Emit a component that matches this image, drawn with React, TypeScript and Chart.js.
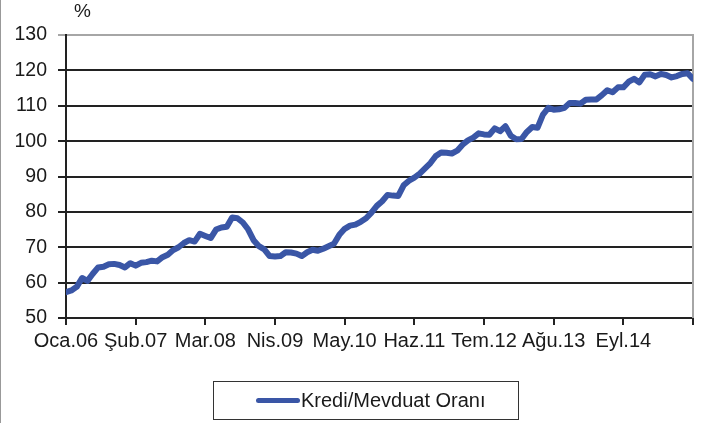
import React, { useEffect, useRef } from "react";
import { Chart, registerables } from "chart.js";

Chart.register(...registerables);

const tickLabels = ["Oca.06", "Şub.07", "Mar.08", "Nis.09", "May.10", "Haz.11", "Tem.12", "Ağu.13", "Eyl.14"];
const monthsPerTick = 13;
const seriesName = "Kredi/Mevduat Oranı";
const unitLabel = "%";
const yMin = 50;
const yMax = 130;
const yStep = 10;

const ratioValues = [
  57.3, 57.8, 58.8, 61.3, 60.5, 62.5, 64.3, 64.5, 65.2, 65.3,
  65.0, 64.3, 65.5, 64.8, 65.6, 65.8, 66.2, 66.0, 67.2, 67.9,
  69.2, 70.0, 71.2, 72.0, 71.6, 73.8, 73.2, 72.6, 75.0, 75.6,
  75.8, 78.4, 78.2, 77.0, 75.0, 72.0, 70.3, 69.4, 67.5, 67.4,
  67.5, 68.6, 68.5, 68.2, 67.5, 68.6, 69.3, 69.0, 69.6, 70.3,
  71.0, 73.5, 75.2, 76.1, 76.4, 77.2, 78.2, 79.8, 81.7, 83.0,
  84.8, 84.6, 84.5, 87.5, 88.8, 89.7, 90.8, 92.3, 93.8, 95.8,
  96.8, 96.7, 96.5, 97.3, 99.0, 100.2, 101.0, 102.2, 101.9, 101.8,
  103.6, 102.8, 104.2, 101.5, 100.5, 100.6, 102.6, 104.0, 103.8, 107.5,
  109.4, 108.9, 109.0, 109.4, 110.8, 110.8, 110.6, 111.7, 111.8, 111.8,
  113.0, 114.4, 113.8, 115.2, 115.2, 116.8, 117.6, 116.6, 118.8, 118.9,
  118.3, 119.0, 118.7, 118.0, 118.4, 119.0, 119.2, 117.6,
];

const FONT = "'Liberation Sans', Arial, sans-serif";
const LINE_COLOR = "#3a56a6";

const framePlugin = {
  id: "framePlugin",
  beforeDatasetsDraw(chart: any) {
    const { ctx, chartArea } = chart;
    ctx.save();
    ctx.strokeStyle = "#a6a6a6";
    ctx.lineWidth = 2;
    ctx.beginPath();
    ctx.moveTo(chartArea.right, chartArea.top - 1);
    ctx.lineTo(chartArea.right, chartArea.bottom);
    ctx.stroke();
    ctx.restore();
  },
  afterDraw(chart: any) {
    const { ctx, chartArea } = chart;
    ctx.save();
    ctx.fillStyle = "#1a1a1a";
    ctx.font = `19px ${FONT}`;
    ctx.textAlign = "left";
    ctx.textBaseline = "alphabetic";
    ctx.fillText(unitLabel, chartArea.left + 8, 17);
    ctx.strokeStyle = "#999999";
    ctx.lineWidth = 1;
    ctx.beginPath();
    ctx.moveTo(0.5, 0);
    ctx.lineTo(0.5, chart.height);
    ctx.stroke();
    ctx.restore();
  },
};

export default function App() {
  const ref = useRef<HTMLCanvasElement>(null);

  useEffect(() => {
    document.body.style.margin = "0";
    const chart = new Chart(ref.current as HTMLCanvasElement, {
      type: "line",
      data: {
        datasets: [
          {
            label: seriesName,
            data: ratioValues.map((v, i) => ({ x: i, y: v })),
            borderColor: LINE_COLOR,
            backgroundColor: LINE_COLOR,
            borderWidth: 6,
            pointRadius: 0,
            tension: 0,
            borderJoinStyle: "round",
            borderCapStyle: "round",
          } as any,
        ],
      },
      options: {
        responsive: false,
        animation: false,
        layout: { padding: { top: 35, right: 11, bottom: 68, left: 0 } },
        plugins: { legend: { display: false }, tooltip: { enabled: false } },
        scales: {
          x: {
            type: "linear",
            min: 0,
            max: ratioValues.length - 1,
            afterBuildTicks: (scale: any) => {
              const t: any[] = [];
              for (let v = 0; v <= ratioValues.length - 1; v += monthsPerTick) t.push({ value: v });
              scale.ticks = t;
            },
            afterFit: (scale: any) => {
              scale.height = 37;
            },
            grid: {
              display: true,
              drawOnChartArea: false,
              drawTicks: true,
              tickLength: 7,
              color: "#222222",
              lineWidth: 2,
            },
            border: { display: true, color: "#222222", width: 2 },
            ticks: {
              autoSkip: false,
              maxRotation: 0,
              padding: 4,
              color: "#1a1a1a",
              font: { family: FONT, size: 20 },
              callback: (value: any) => {
                const idx = Math.round(Number(value) / monthsPerTick);
                return idx < tickLabels.length ? tickLabels[idx] : "";
              },
            },
          },
          y: {
            min: yMin,
            max: yMax,
            afterFit: (scale: any) => {
              scale.width = 66;
            },
            grid: {
              color: (c: any) => (c.tick && c.tick.value === yMax ? "#a6a6a6" : "#222222"),
              lineWidth: 2,
              tickLength: 8,
            },
            border: { display: true, color: "#222222", width: 2 },
            ticks: {
              stepSize: yStep,
              padding: 11,
              color: "#1a1a1a",
              font: { family: FONT, size: 19.5 },
            },
          },
        },
      },
      plugins: [framePlugin],
    });
    return () => chart.destroy();
  }, []);

  return (
    <div style={{ position: "fixed", left: 0, top: 0, width: 704, height: 423, background: "#fff" }}>
      <canvas ref={ref} width={704} height={423} style={{ display: "block" }} />
      <div
        style={{
          position: "absolute",
          left: 213,
          top: 381,
          width: 306,
          height: 39,
          border: "1.5px solid #333",
          boxSizing: "border-box",
          fontFamily: FONT,
          fontSize: 20,
          color: "#1a1a1a",
        }}
      >
        <div
          style={{
            position: "absolute",
            left: 42,
            top: 16,
            width: 44,
            height: 5,
            borderRadius: 3,
            background: LINE_COLOR,
          }}
        />
        <span style={{ position: "absolute", left: 87, top: 7, lineHeight: "22px", whiteSpace: "nowrap" }}>
          {seriesName}
        </span>
      </div>
    </div>
  );
}
